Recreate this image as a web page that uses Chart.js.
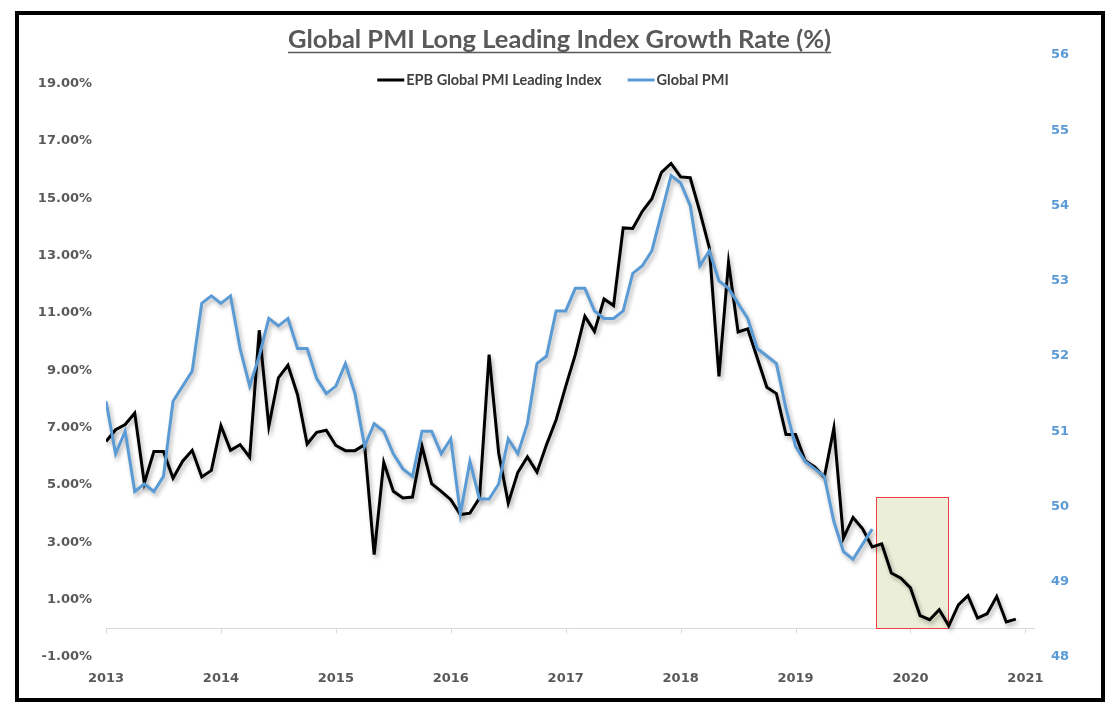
<!DOCTYPE html>
<html>
<head>
<meta charset="utf-8">
<title>Global PMI Long Leading Index Growth Rate (%)</title>
<script src="https://cdn.jsdelivr.net/npm/chart.js@4.4.1/dist/chart.umd.min.js"></script>
<style>
    html, body { margin: 0; padding: 0; background: #ffffff; }
    #wrap { position: relative; width: 1119px; height: 718px; }
    #chart_canvas { position: absolute; left: 0; top: 0; }
    #frame {
        position: absolute; left: 15px; top: 11px;
        width: 1082px; height: 683px;
        border: 4px solid #000000; pointer-events: none;
    }
</style>
</head>
<body>
<div id="wrap">
    <canvas id="chart_canvas" width="1119" height="718"></canvas>
    <div id="frame"></div>
</div>
<script>
//
const START_YEAR = 2013;
// x values are months since Jan 2013
const year_ticks = [0, 12, 24, 36, 48, 60, 72, 84, 96];
const left_ticks = [-1, 1, 3, 5, 7, 9, 11, 13, 15, 17, 19];
const right_ticks = [48, 49, 50, 51, 52, 53, 54, 55, 56];

// EPB Global PMI Leading Index, growth rate in %, Jan 2013 .. Dec 2020
const leading_index = [
    6.52, 6.93, 7.11, 7.51, 5.07, 6.17, 6.17, 5.24, 5.83, 6.21, 5.28, 5.51,
    7.07, 6.21, 6.41, 5.97, 10.40, 7.05, 8.74, 9.18, 8.15, 6.43, 6.84, 6.91,
    6.38, 6.20, 6.20, 6.41, 2.57, 5.79, 4.78, 4.55, 4.58, 6.35, 5.05, 4.78,
    4.49, 3.97, 4.02, 4.55, 9.55, 6.12, 4.37, 5.44, 5.98, 5.45, 6.41, 7.28,
    8.44, 9.55, 10.89, 10.36, 11.49, 11.26, 13.97, 13.95, 14.55, 14.99, 15.91, 16.22,
    15.75, 15.72, 14.55, 13.27, 8.79, 12.77, 10.34, 10.45, 9.43, 8.41, 8.19, 6.76,
    6.76, 5.85, 5.63, 5.27, 6.99, 3.15, 3.87, 3.47, 2.84, 2.95, 1.93, 1.75,
    1.41, 0.44, 0.30, 0.65, 0.09, 0.82, 1.14, 0.36, 0.51, 1.11, 0.22, 0.32
];

// Global PMI, Jan 2013 .. Sep 2019
const global_pmi = [
    51.4, 50.7, 51.0, 50.2, 50.3, 50.2, 50.4, 51.4, 51.6, 51.8, 52.7, 52.8,
    52.7, 52.8, 52.1, 51.6, 52.0, 52.5, 52.4, 52.5, 52.1, 52.1, 51.7, 51.5,
    51.6, 51.9, 51.5, 50.8, 51.1, 51.0, 50.7, 50.5, 50.4, 51.0, 51.0, 50.7,
    50.9, 49.9, 50.6, 50.1, 50.1, 50.3, 50.9, 50.7, 51.1, 51.9, 52.0, 52.6,
    52.6, 52.9, 52.9, 52.6, 52.5, 52.5, 52.6, 53.1, 53.2, 53.4, 53.9, 54.4,
    54.3, 54.0, 53.2, 53.4, 53.0, 52.9, 52.7, 52.5, 52.1, 52.0, 51.9, 51.3,
    50.8, 50.6, 50.5, 50.4, 49.8, 49.4, 49.3, 49.5, 49.7
];

// highlighted period (months since Jan 2013) and its range on the left axis (%)
const highlight_months = [80.45, 88];
const highlight_range = [0, 4.58];

const LABEL_FONT = '"DejaVu Sans"';
const TEXT_FONT = 'Lato';

// axis line through 0% with year tick marks, plus the highlight box
const axis_and_box_plugin = {
    id: 'axis_and_box',
    beforeDatasetsDraw(chart) {
        let ctx = chart.ctx;
        let x_scale = chart.scales.x;
        let y_left = chart.scales.y_left;
        let area = chart.chartArea;
        ctx.save();
        // zero line
        let y0 = Math.round(y_left.getPixelForValue(0)) + 0.5;
        ctx.strokeStyle = '#d9d9d9';
        ctx.lineWidth = 1;
        ctx.beginPath();
        ctx.moveTo(area.left, y0);
        ctx.lineTo(area.right, y0);
        for (let i = 0; i < year_ticks.length; i++) {
            let tx = Math.round(x_scale.getPixelForValue(year_ticks[i])) + 0.5;
            ctx.moveTo(tx, y0);
            ctx.lineTo(tx, y0 + 5);
        }
        ctx.stroke();
        // box
        let bx1 = x_scale.getPixelForValue(highlight_months[0]);
        let bx2 = x_scale.getPixelForValue(highlight_months[1]);
        let by1 = y_left.getPixelForValue(highlight_range[1]);
        let by2 = y_left.getPixelForValue(highlight_range[0]);
        ctx.fillStyle = '#ebeed8';
        ctx.fillRect(bx1, by1, bx2 - bx1, by2 - by1);
        ctx.strokeStyle = '#ee4040';
        ctx.strokeRect(Math.round(bx1) + 0.5, Math.round(by1) + 0.5, Math.round(bx2 - bx1), Math.round(by2 - by1));
        ctx.restore();
    }
};

// soft drop shadow under both lines
const shadow_plugin = {
    id: 'line_shadow',
    beforeDatasetDraw(chart) {
        let ctx = chart.ctx;
        ctx.save();
        ctx.shadowColor = 'rgba(0, 0, 0, 0.30)';
        ctx.shadowBlur = 4;
        ctx.shadowOffsetX = 2;
        ctx.shadowOffsetY = 3;
    },
    afterDatasetDraw(chart) {
        chart.ctx.restore();
    }
};

// legend sitting inside the top of the plot, plus title underline
const legend_plugin = {
    id: 'top_legend',
    afterDraw(chart) {
        let ctx = chart.ctx;
        let datasets = chart.data.datasets;
        ctx.save();
        ctx.font = 'bold 14.5px ' + TEXT_FONT;
        ctx.textBaseline = 'middle';
        ctx.textAlign = 'left';
        let sample_w = 27, text_gap = 2, item_gap = 26;
        let total = 0;
        let widths = [];
        for (let i = 0; i < datasets.length; i++) {
            widths.push(ctx.measureText(datasets[i].label).width);
            total += sample_w + text_gap + widths[i];
        }
        total += item_gap * (datasets.length - 1);
        let x = 553 - total / 2;
        let y = 80;
        for (let i = 0; i < datasets.length; i++) {
            ctx.strokeStyle = datasets[i].borderColor;
            ctx.lineWidth = 3;
            ctx.beginPath();
            ctx.moveTo(x, y);
            ctx.lineTo(x + sample_w, y);
            ctx.stroke();
            ctx.fillStyle = '#404040';
            ctx.fillText(datasets[i].label, x + sample_w + text_gap, y + 0.5);
            x += sample_w + text_gap + widths[i] + item_gap;
        }
        // underline the title
        let title_opts = chart.options.plugins.title;
        ctx.font = 'bold ' + title_opts.font.size + 'px ' + TEXT_FONT;
        let tw = ctx.measureText(title_opts.text).width;
        let tb = chart.titleBlock;
        let cx = (tb.left + tb.right) / 2;
        ctx.strokeStyle = '#595959';
        ctx.lineWidth = 1.6;
        ctx.beginPath();
        ctx.moveTo(cx - tw / 2, 52.5);
        ctx.lineTo(cx + tw / 2, 52.5);
        ctx.stroke();
        ctx.restore();
    }
};

let THE_CHART = null;

function draw_chart() {
    let black_points = leading_index.map(function (v, i) { return {x: i, y: v}; });
    let blue_points = global_pmi.map(function (v, i) { return {x: i, y: v}; });

    THE_CHART = new Chart(document.getElementById('chart_canvas'), {
        type: 'line',
        data: {
            datasets: [
                {
                    label: 'EPB Global PMI Leading Index',
                    data: black_points,
                    yAxisID: 'y_left',
                    borderColor: '#000000',
                    borderWidth: 3,
                    pointRadius: 0,
                    tension: 0,
                    order: 1
                },
                {
                    label: 'Global PMI',
                    data: blue_points,
                    yAxisID: 'y_right',
                    borderColor: '#5b9bd5',
                    borderWidth: 3,
                    pointRadius: 0,
                    tension: 0,
                    order: 0
                }
            ]
        },
        options: {
            responsive: false,
            devicePixelRatio: 1,
            animation: false,
            layout: {padding: 0},
            plugins: {
                legend: {display: false},
                tooltip: {enabled: false},
                title: {
                    display: true,
                    text: 'Global PMI Long Leading Index Growth Rate (%)',
                    color: '#595959',
                    font: {family: TEXT_FONT, size: 25.5, weight: 'bold', lineHeight: 1.2},
                    padding: {top: 24.5, bottom: 0}
                }
            },
            scales: {
                x: {
                    type: 'linear',
                    position: 'bottom',
                    min: 0,
                    max: 97,
                    afterBuildTicks: function (scale) {
                        scale.ticks = year_ticks.map(function (v) { return {value: v}; });
                    },
                    afterFit: function (scale) { scale.height = 61; },
                    grid: {display: false, drawTicks: false},
                    border: {display: false},
                    ticks: {
                        padding: 14,
                        autoSkip: false,
                        maxRotation: 0,
                        color: '#595959',
                        font: {family: LABEL_FONT, size: 13, weight: 'bold'},
                        callback: function (v) { return String(START_YEAR + v / 12); }
                    }
                },
                y_left: {
                    type: 'linear',
                    position: 'left',
                    min: -1,
                    max: 20,
                    afterBuildTicks: function (scale) {
                        scale.ticks = left_ticks.map(function (v) { return {value: v}; });
                    },
                    afterFit: function (scale) { scale.width = 106; },
                    grid: {display: false, drawTicks: false},
                    border: {display: false},
                    ticks: {
                        padding: 14,
                        autoSkip: false,
                        color: '#595959',
                        font: {family: LABEL_FONT, size: 13, weight: 'bold'},
                        callback: function (v) { return v.toFixed(2) + '%'; }
                    }
                },
                y_right: {
                    type: 'linear',
                    position: 'right',
                    min: 48,
                    max: 56,
                    afterBuildTicks: function (scale) {
                        scale.ticks = right_ticks.map(function (v) { return {value: v}; });
                    },
                    afterFit: function (scale) { scale.width = 84; },
                    grid: {display: false, drawTicks: false},
                    border: {display: false},
                    ticks: {
                        padding: 16,
                        autoSkip: false,
                        color: '#5b9bd5',
                        font: {family: LABEL_FONT, size: 13, weight: 'bold'},
                        callback: function (v) { return String(v); }
                    }
                }
            }
        },
        plugins: [axis_and_box_plugin, shadow_plugin, legend_plugin]
    });
}

window.onload = function () {
    Promise.all([
        document.fonts.load('bold 25.5px Lato'),
        document.fonts.load('bold 13px "DejaVu Sans"')
    ]).then(draw_chart, draw_chart);
};
</script>
</body>
</html>
